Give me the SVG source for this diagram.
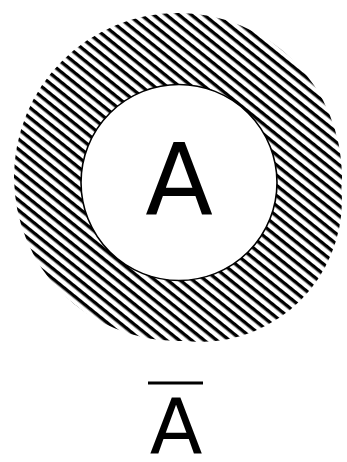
<svg xmlns="http://www.w3.org/2000/svg" width="347" height="462" viewBox="0 0 347 462">
  <style>
    .lbl { font-family: "DejaVu Sans", sans-serif; fill: #000; text-anchor: middle; }
  </style>
  <defs>
    <pattern id="hatch" patternUnits="userSpaceOnUse" width="7.9" height="7.9" patternTransform="rotate(39)">
      <rect x="0" y="0" width="7.9" height="7.9" fill="#fff"/>
      <rect x="0" y="0" width="7.9" height="3.4" fill="#000"/>
    </pattern>
  </defs>
  <rect width="347" height="462" fill="#fff"/>
  <g id="complement">
    <path d="M14,177 A164,164 0 1,1 342,177 A164,164 0 1,1 14,177 Z M58,200 A142,142 0 1,1 342,200 A142,142 0 1,1 58,200 Z" fill="url(#hatch)" fill-rule="nonzero"/>
  </g>
  <g id="setA">
    <circle cx="179" cy="182.5" r="98" fill="#fff" stroke="#000" stroke-width="1.6"/>
    <text class="lbl" x="179" y="215" font-size="99">A</text>
  </g>
  <g id="label">
    <line x1="148" y1="383" x2="203" y2="383" stroke="#000" stroke-width="3"/>
    <text class="lbl" x="176" y="453" font-size="77">A</text>
  </g>
</svg>
